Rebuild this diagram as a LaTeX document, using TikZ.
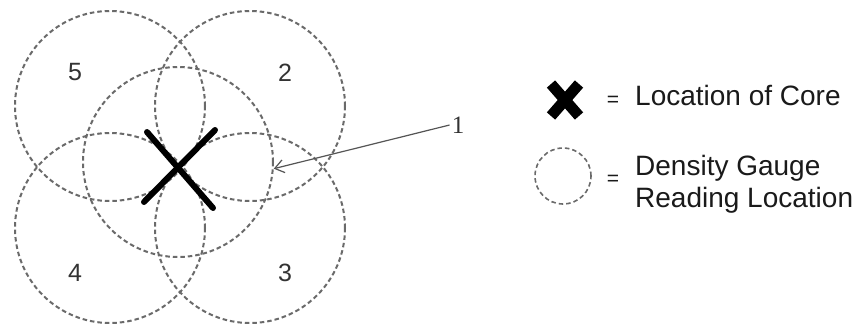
\documentclass[tikz,border=0pt]{standalone}
\usepackage{fontspec}
\setmainfont{Liberation Sans}
\newfontfamily\serifone{Liberation Serif}
\usetikzlibrary{arrows.meta}
\definecolor{gaugegray}{HTML}{6A6A6A}
\definecolor{numgray}{HTML}{333333}
\definecolor{arrowgray}{HTML}{555555}
\definecolor{legtext}{HTML}{1A1A1A}
\begin{document}
\begin{tikzpicture}[x=1pt,y=-1pt,
  gauge/.style={circle, draw=gaugegray, dash pattern=on 4.5pt off 3pt, line width=2pt, minimum size=190pt, inner sep=0pt},
  num/.style={font=\fontsize{25}{27}\selectfont, text=numgray, inner sep=0pt},
  corex/.style={line width=6pt, line cap=round, black},
  legx/.style={line width=11pt, line cap=butt, black},
  legend/.style={font=\fontsize{28}{32}\selectfont, text=legtext, inner sep=0pt, align=left},
  eqsign/.style={font=\fontsize{21}{24}\selectfont, text=legtext, inner sep=0pt},
  pointer/.style={draw=arrowgray, line width=1.2pt, -{Straight Barb[length=9pt, width=13pt, line width=1.2pt]}}
]
\useasboundingbox (0,0) rectangle (862,325);
\fill[white] (0,0) rectangle (862,325);
% gauge reading circles
\node[gauge] (c5) at (110,106) {};
\node[gauge] (c2) at (250,106) {};
\node[gauge] (c4) at (110,228) {};
\node[gauge] (c3) at (250,228) {};
\node[gauge] (c1) at (178,162) {};
% numbers
\node[num] (n5) at (75,72) {5};
\node[num] (n2) at (285,73) {2};
\node[num] (n4) at (75,273) {4};
\node[num] (n3) at (285,273) {3};
% core location
\draw[corex] (147,132) -- (213,208);
\draw[corex] (144,202) -- (215,130);
% label 1 and pointer
\node[font=\serifone\fontsize{25}{27}\selectfont, text=numgray, inner sep=2pt] (one) at (458,125) {1};
\draw[pointer] (one.west) -- (c1.-4);
% legend
\draw[legx] (551,84) -- (579,116);
\draw[legx] (579,84) -- (551,116);
\node[eqsign] (eq1) at (613,101) {=};
\node[legend, anchor=base west] (core) at (635,105) {Location of Core};
\node[gauge, minimum size=56pt, line width=1.6pt] (legc) at (563,176) {};
\node[eqsign] (eq2) at (613,180) {=};
\node[legend, anchor=north west] (dens) at (635,155) {Density Gauge\\Reading Location};
\end{tikzpicture}
\end{document}
